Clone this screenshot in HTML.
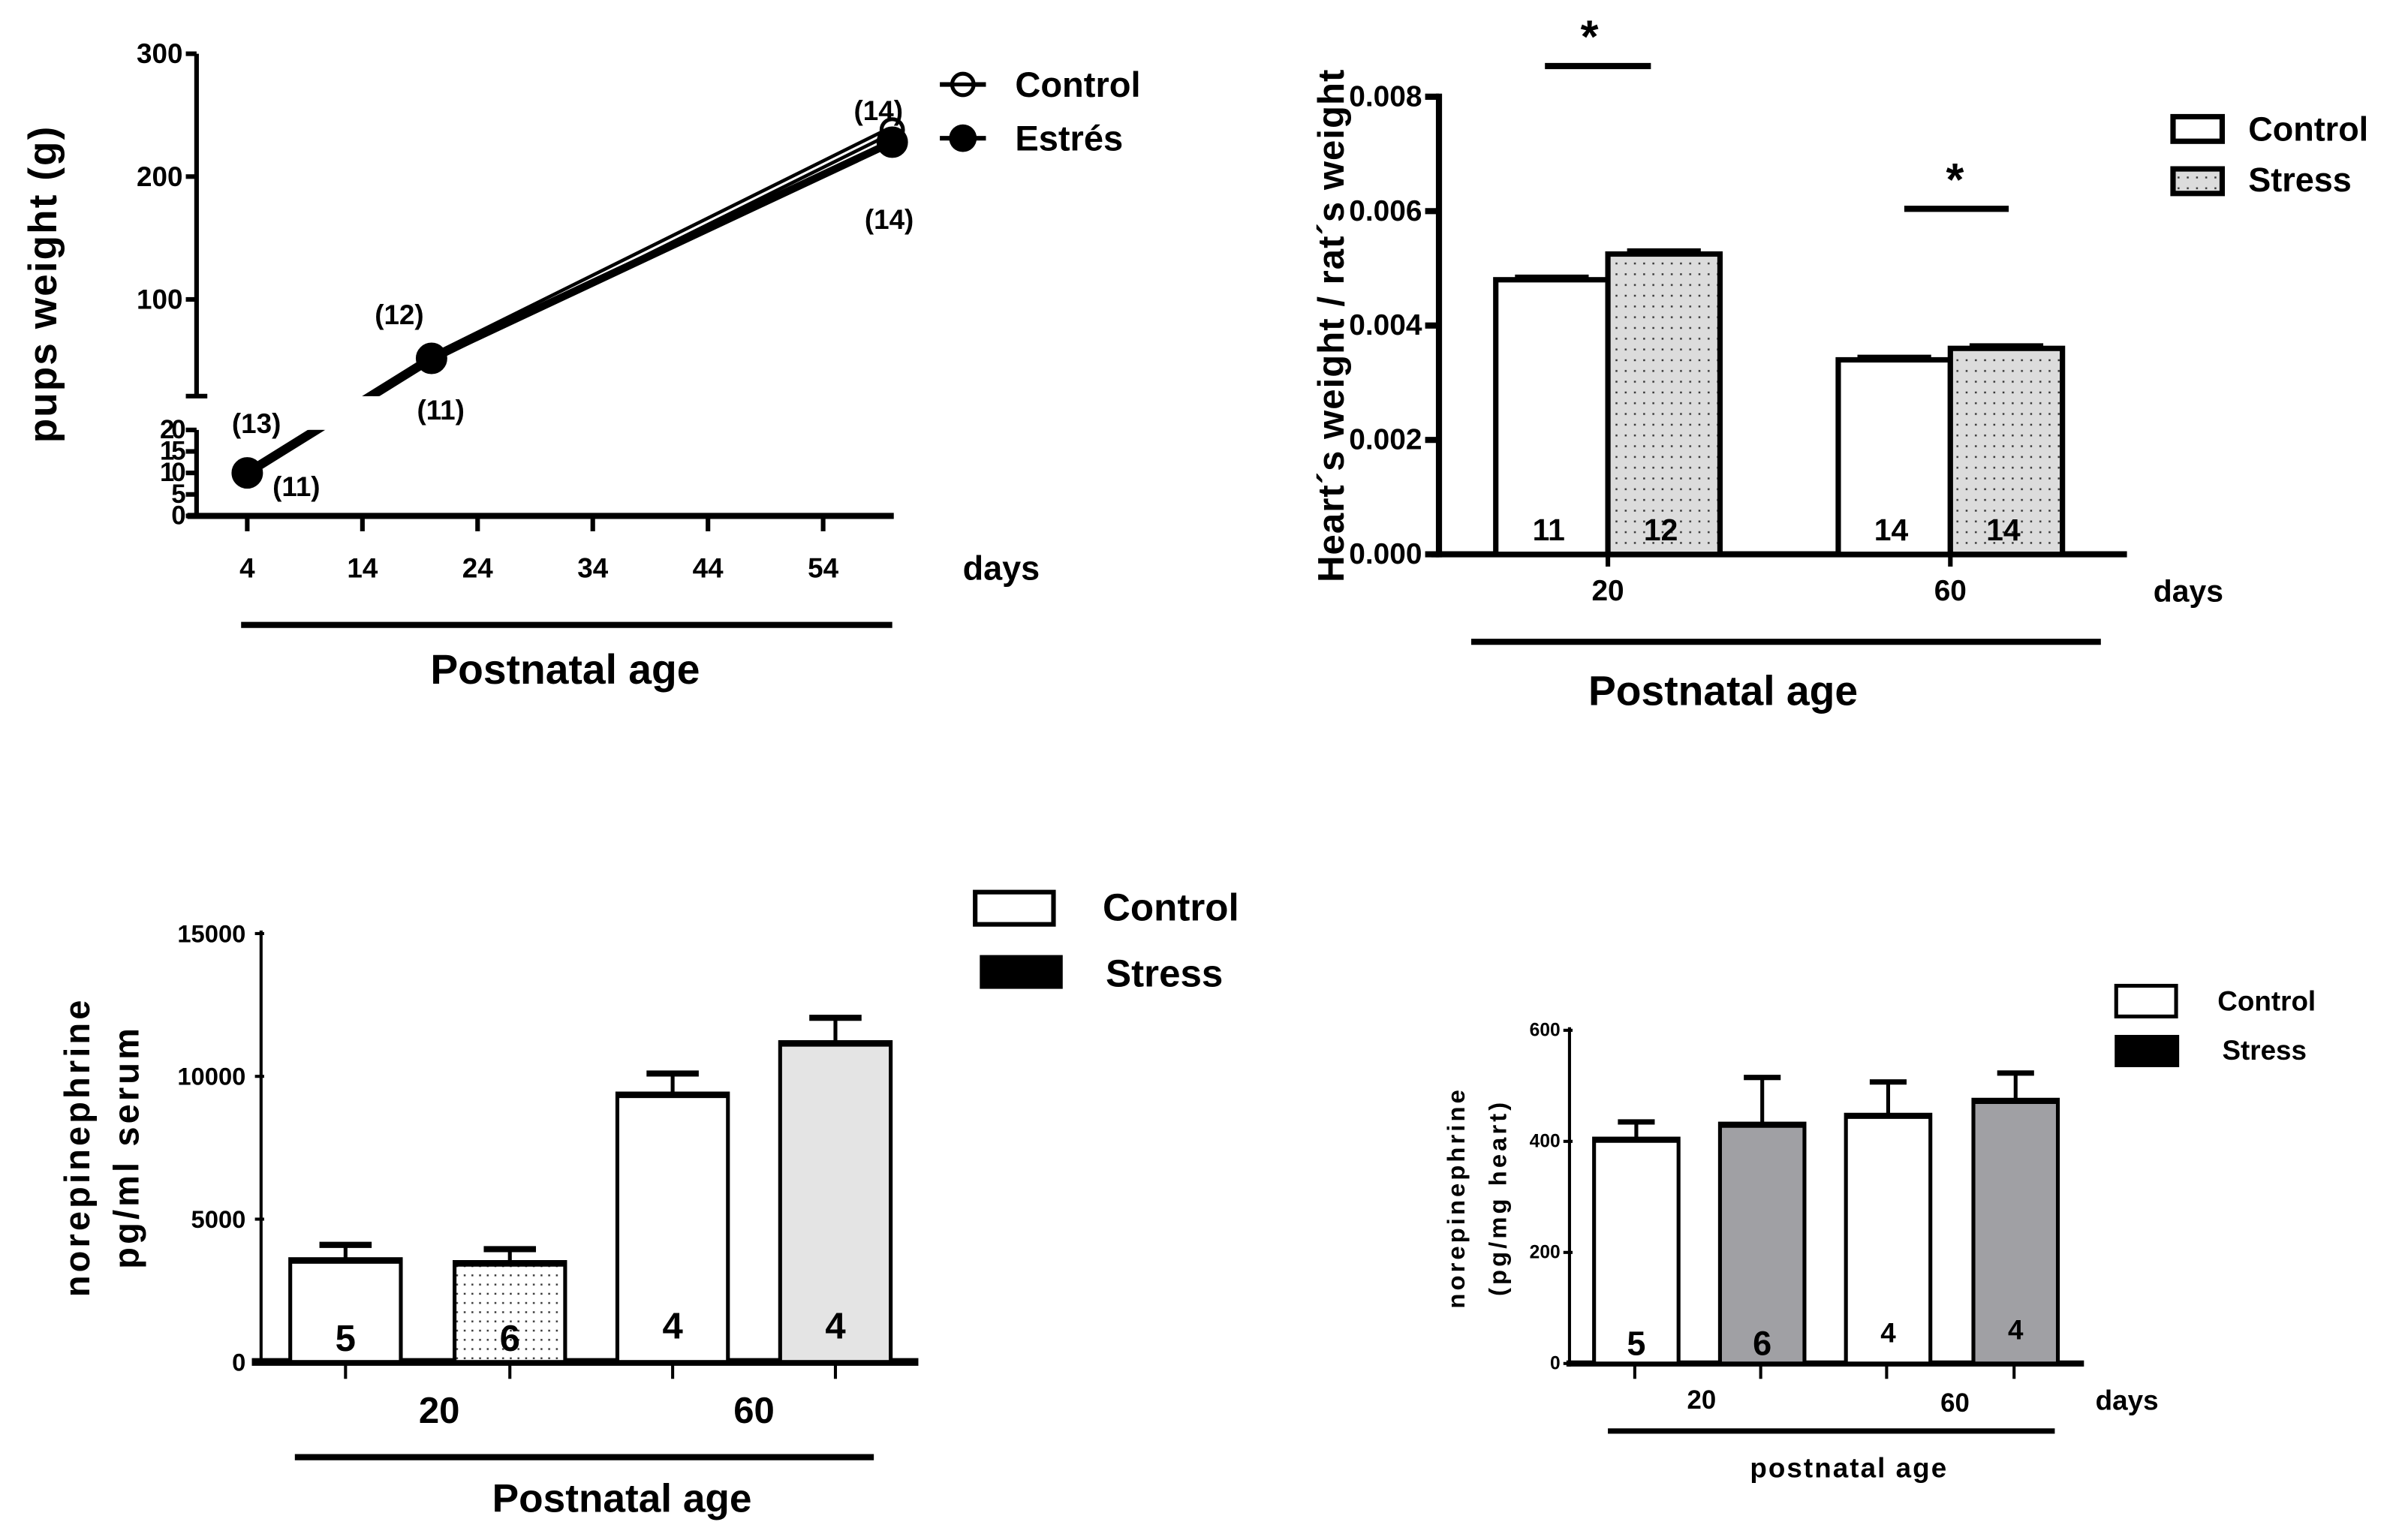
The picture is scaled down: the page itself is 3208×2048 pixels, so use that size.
<!DOCTYPE html>
<html><head><meta charset="utf-8"><style>
html,body{margin:0;padding:0;background:#fff;}
svg{display:block;}
text{font-family:"Liberation Sans",Arial,sans-serif;font-weight:bold;fill:#000;}
</style></head><body>
<svg id="root" xmlns="http://www.w3.org/2000/svg" width="3208" height="2048" viewBox="0 0 1568 1001" preserveAspectRatio="none">
<defs>
<pattern id="dots" width="6" height="7" patternUnits="userSpaceOnUse"><rect width="6" height="7" fill="#dcdcdc"/><rect x="2" y="3" width="1.2" height="1.2" fill="#333"/></pattern>
<pattern id="dotsw" width="5" height="6" patternUnits="userSpaceOnUse"><rect width="5" height="6" fill="#fff"/><rect x="2" y="2" width="1.2" height="1.2" fill="#333"/></pattern>
<clipPath id="clipLow"><rect x="128" y="280" width="500" height="60"/></clipPath>
<clipPath id="clipHigh"><rect x="128" y="0" width="500" height="258"/></clipPath>
</defs>
<g id="c1"></g>
<g id="c2"></g>
<g id="c3"></g>
<g id="c4"></g>
</svg>
<script>
// ---- Chart 1 data ----
const days = [4, 20, 60];
const controlWeight = [10, 52, 238];
const stressWeight = [10, 52, 228];
const xTicks1 = [4, 14, 24, 34, 44, 54];
const yTicksHigh = [100, 200, 300];
const yTicksLow = [0, 5, 10, 15, 20];
const nLabels1 = [["(13)",167,276],["(11)",193,317],["(12)",260,205],["(11)",287,267],["(14)",572,72],["(14)",579,143]];
// ---- Chart 2 data ----
const groups2 = ["20", "60"];
const ctrl2 = [0.0048, 0.0034];
const ctrl2Err = [0.00005, 0.00005];
const str2 = [0.00525, 0.0036];
const str2Err = [0.00006, 0.00005];
const n2 = [["11","12"],["14","14"]];
const yTicks2 = [0, 0.002, 0.004, 0.006, 0.008];
const yTickLabels2 = ["0.000","0.002","0.004","0.006","0.008"];
// ---- Chart 3 data ----
const vals3 = [3600, 3500, 9400, 11200];
const err3 = [500, 450, 700, 850];
const n3 = ["5","6","4","4"];
const yTicks3 = [0, 5000, 10000, 15000];
// ---- Chart 4 data ----
const vals4 = [405, 432, 448, 475];
const err4 = [30, 83, 59, 48];
const n4 = ["5","6","4","4"];
const yTicks4 = [0, 200, 400, 600];

const NS = "http://www.w3.org/2000/svg";
function mk(parent, tag, attrs, txt){
  const e = document.createElementNS(NS, tag);
  for (const k in attrs) e.setAttribute(k, attrs[k]);
  if (txt !== undefined) e.textContent = txt;
  parent.appendChild(e);
  return e;
}
function line(p,x1,y1,x2,y2,w,name){
  const e = mk(p,'line',{x1,y1,x2,y2,stroke:'#000','stroke-width':w});
  
  
  return e;
}
function txt(p,x,y,s,size,anchor,name,extra){
  const e = mk(p,'text',Object.assign({x,y,'font-size':size,'text-anchor':anchor||'middle','dominant-baseline':'central'},extra||{}),s);
  
  
  return e;
}

// ===== Chart 1 =====
(function(){
  const g = document.getElementById('c1');
  const X = d => 161 + (d-4)*7.5;
  const YH = v => 195 - (v-100)*0.8;
  const YL = v => 336 - v*2.8;
  const Y = v => v >= 21 ? YH(v) : YL(v);
  line(g,128,35,128,258,3,'y-axis-upper');
  line(g,128,280,128,337,3,'y-axis-lower');
  line(g,121,258,135,258,3,'y-break-tick');
  line(g,122,336,582,336,4,'x-axis');
  yTicksHigh.forEach(v=>{ line(g,121,YH(v),128,YH(v),3,'y-tick'); txt(g,119,YH(v),String(v),18,'end','y-tick-label'); });
  yTicksLow.forEach(v=>{ line(g,121,YL(v),128,YL(v),3,'y-tick'); txt(g,119,YL(v),String(v),17,'end','y-tick-label-low',{'letter-spacing':'-2'}); });
  xTicks1.forEach(d=>{ line(g,X(d),336,X(d),346,3,'x-tick'); txt(g,X(d),370,String(d),18,'middle','x-tick-label'); });
  txt(g,652,370,'days',22,'middle','x-unit-label');
  line(g,157,407,581,407,4,'postnatal-bar');
  txt(g,368,436,'Postnatal age',27,'middle','x-axis-title');
  txt(g,28,185,'pups weight (g)',26,'middle','y-axis-title',{transform:'rotate(-90 28 185)','letter-spacing':'1'});
  function series(vals, filled, name){
    const pts = days.map((d,i)=>[X(d),Y(vals[i])]);
    const d = 'M'+pts.map(p=>p.join(',')).join(' L');
    const w = filled ? 5 : 6;
    const a = mk(g,'path',{d,fill:'none',stroke:'#000','stroke-width':w,'clip-path':'url(#clipLow)'});
    
    
    const b = mk(g,'path',{d,fill:'none',stroke:'#000','stroke-width':w,'clip-path':'url(#clipHigh)'});
    
    
    if(!filled){ const c = mk(g,'path',{d,fill:'none',stroke:'#fff','stroke-width':1.5,'clip-path':'url(#clipHigh)'});   }
    pts.forEach(p=>{ const c = mk(g,'circle',{cx:p[0],cy:p[1],r:filled?9:7,fill:filled?'#000':'#fff',stroke:'#000','stroke-width':2.5});
      
       });
  }
  series(controlWeight,false,'control');
  series(stressWeight,true,'estres');
  nLabels1.forEach(l=>txt(g,l[1],l[2],l[0],18,'middle','n-label'));
  line(g,612,55,642,55,3,'legend-control-line');
  const lc = mk(g,'circle',{cx:627,cy:55,r:7,fill:'#fff',stroke:'#000','stroke-width':2.5});  
  line(g,620,55,634,55,2.5,'legend-control-bar');
  txt(g,661,55,'Control',23,'start','legend-control-label');
  line(g,612,90,642,90,3,'legend-estres-line');
  const le = mk(g,'circle',{cx:627,cy:90,r:9,fill:'#000'});  
  txt(g,661,90,'Estrés',23,'start','legend-estres-label');
})();

// ===== Chart 2 =====
(function(){
  const g = document.getElementById('c2');
  const Y = v => 361 - v/0.008*298;
  const gx = [974, 1197], bw = 73;
  line(g,937,61,937,363,4,'y-axis');
  line(g,932,361,1385,361,4,'x-axis');
  yTicks2.forEach((v,i)=>{ line(g,928,Y(v),937,Y(v),4,'y-tick'); txt(g,926,Y(v),yTickLabels2[i],19,'end','y-tick-label'); });
  groups2.forEach((lab,i)=>{
    const x0 = gx[i];
    [[ctrl2,ctrl2Err,'#fff','control'],[str2,str2Err,'url(#dots)','stress']].forEach((s,j)=>{
      const x = x0 + j*bw, v = s[0][i], e = s[1][i];
      const r = mk(g,'rect',{x,y:Y(v),width:bw,height:361-Y(v),fill:s[2],stroke:'#000','stroke-width':3.5});
      
      
      line(g,x+bw/2,Y(v),x+bw/2,Y(v+e),2,'error-bar');
      line(g,x+bw/2-24,Y(v+e),x+bw/2+24,Y(v+e),3,'error-cap');
      txt(g,x+bw/2-2,345,n2[i][j],20,'middle','n-label');
    });
    line(g,x0+bw,361,x0+bw,369,3,'x-tick');
    txt(g,x0+bw,385,lab,19,'middle','x-tick-label');
  });
  txt(g,1425,385,'days',20,'middle','x-unit-label');
  line(g,958,418,1368,418,4,'postnatal-bar');
  txt(g,1122,450,'Postnatal age',27,'middle','x-axis-title');
  txt(g,867,212,'Heart´s weight / rat´s weight',24,'middle','y-axis-title',{transform:'rotate(-90 867 212)','letter-spacing':'0.5'});
  line(g,1006,43,1075,43,4,'sig-line-20');
  txt(g,1035,24,'*',30,'middle','sig-star-20');
  line(g,1240,136,1308,136,4,'sig-line-60');
  txt(g,1273,117,'*',30,'middle','sig-star-60');
  const a = mk(g,'rect',{x:1415,y:76,width:32,height:16,fill:'#fff',stroke:'#000','stroke-width':3.5});  
  txt(g,1464,84,'Control',22,'start','legend-control-label');
  const b = mk(g,'rect',{x:1415,y:110,width:32,height:16,fill:'url(#dots)',stroke:'#000','stroke-width':3.5});  
  txt(g,1464,117,'Stress',22,'start','legend-stress-label');
})();

// ===== Chart 3 =====
(function(){
  const g = document.getElementById('c3');
  const Y = v => 887 - v/15000*279;
  const xs = [189, 296, 402, 508], bw = 72;
  const fills = ['#fff','url(#dotsw)','#fff','#e4e4e4'];
  line(g,170,606,170,889,2,'y-axis');
  line(g,164,887,598,887,5,'x-axis');
  yTicks3.forEach(v=>{ line(g,166,Y(v),172,Y(v),2,'y-tick'); txt(g,160,Y(v),String(v),16,'end','y-tick-label'); });
  vals3.forEach((v,i)=>{
    const x = xs[i];
    const r = mk(g,'rect',{x,y:Y(v),width:bw,height:887-Y(v),fill:fills[i],stroke:'#000','stroke-width':2.5});
    
    
    line(g,x,Y(v)+1,x+bw,Y(v)+1,4,'bar-top');
    line(g,x+bw/2,Y(v),x+bw/2,Y(v+err3[i]),2.5,'error-bar');
    line(g,x+bw/2-17,Y(v+err3[i]),x+bw/2+17,Y(v+err3[i]),4,'error-cap');
    line(g,x+bw/2,887,x+bw/2,898,2,'x-tick');
    txt(g,x+bw/2,i<2?872:864,n3[i],24,'middle','n-label');
  });
  txt(g,286,919,'20',24,'middle','x-tick-label');
  txt(g,491,919,'60',24,'middle','x-tick-label');
  line(g,192,949,569,949,4,'postnatal-bar');
  txt(g,405,976,'Postnatal age',26,'middle','x-axis-title');
  txt(g,50,747,'norepinephrine',23,'middle','y-axis-title-1',{transform:'rotate(-90 50 747)','letter-spacing':'2'});
  txt(g,82,747,'pg/ml serum',23,'middle','y-axis-title-2',{transform:'rotate(-90 82 747)','letter-spacing':'2'});
  const a = mk(g,'rect',{x:635,y:581,width:51,height:21,fill:'#fff',stroke:'#000','stroke-width':3});  
  txt(g,718,591,'Control',25,'start','legend-control-label');
  const b = mk(g,'rect',{x:638,y:622,width:54,height:22,fill:'#000'});  
  txt(g,720,634,'Stress',25,'start','legend-stress-label');
})();

// ===== Chart 4 =====
(function(){
  const g = document.getElementById('c4');
  const Y = v => 888 - v/600*217;
  const xs = [1038, 1120, 1202, 1285], bw = 55;
  const fills = ['#fff','#a0a0a4','#fff','#a0a0a4'];
  line(g,1022,669,1022,890,2,'y-axis');
  line(g,1020,888,1357,888,4,'x-axis');
  yTicks4.forEach(v=>{ line(g,1018,Y(v),1024,Y(v),2,'y-tick'); txt(g,1016,Y(v),String(v),12,'end','y-tick-label'); });
  vals4.forEach((v,i)=>{
    const x = xs[i];
    const r = mk(g,'rect',{x,y:Y(v),width:bw,height:888-Y(v),fill:fills[i],stroke:'#000','stroke-width':2.5});
    
    
    line(g,x,Y(v)+1,x+bw,Y(v)+1,3.5,'bar-top');
    line(g,x+bw/2,Y(v),x+bw/2,Y(v+err4[i]),2.5,'error-bar');
    line(g,x+bw/2-12,Y(v+err4[i]),x+bw/2+12,Y(v+err4[i]),3.5,'error-cap');
    line(g,x+bw/2-1,888,x+bw/2-1,898,2,'x-tick');
    txt(g,x+bw/2,i%2===0&&i>0?868:(i===3?866:875),n4[i],i<2?22:18,'middle','n-label');
  });
  txt(g,1108,912,'20',17,'middle','x-tick-label');
  txt(g,1273,914,'60',17,'middle','x-tick-label');
  txt(g,1385,912,'days',18,'middle','x-unit-label');
  line(g,1047,932,1338,932,3.5,'postnatal-bar');
  txt(g,1204,956,'postnatal   age',18,'middle','x-axis-title',{'xml:space':'preserve','letter-spacing':'1'});
  txt(g,948,780,'norepinephrine',16,'middle','y-axis-title-1',{transform:'rotate(-90 948 780)','letter-spacing':'2'});
  txt(g,975,780,'(pg/mg heart)',16,'middle','y-axis-title-2',{transform:'rotate(-90 975 780)','letter-spacing':'2'});
  const a = mk(g,'rect',{x:1378,y:642,width:39,height:20,fill:'#fff',stroke:'#000','stroke-width':2.5});  
  txt(g,1444,652,'Control',18,'start','legend-control-label');
  const b = mk(g,'rect',{x:1377,y:674,width:42,height:21,fill:'#000'});  
  txt(g,1447,684,'Stress',18,'start','legend-stress-label');
})();
</script>
</body></html>
